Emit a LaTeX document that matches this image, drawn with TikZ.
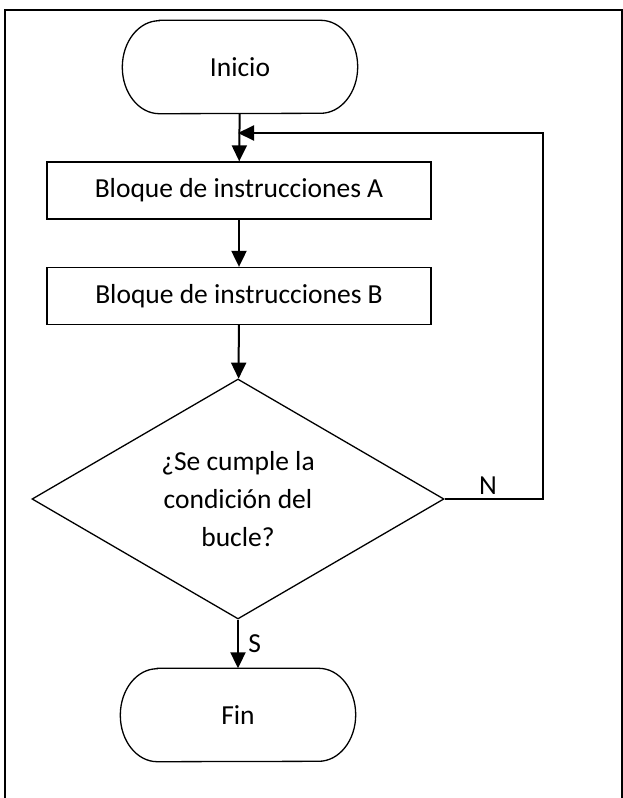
\documentclass[tikz,border=0pt]{standalone}
\usepackage{fontspec}
\setmainfont{Carlito}
\usepackage{xcolor}
\usepackage{tikz}
\usetikzlibrary{arrows.meta,shapes.geometric}

% outline of a start/end node: straight top and bottom, half ellipses at the ends
\newcommand{\capsula}[1]{%
    \draw[line width=1.3pt] ([xshift=37pt]#1.north west) -- ([xshift=-37pt]#1.north east)
        arc[start angle=90, end angle=-90, x radius=37pt, y radius=46.5pt]
        -- ([xshift=37pt]#1.south west)
        arc[start angle=270, end angle=90, x radius=37pt, y radius=46.5pt] -- cycle;}

\begin{document}
\begin{tikzpicture}[x=1pt, y=-1pt,
    every node/.style={font=\fontsize{27.5}{38}\selectfont},
    terminal/.style={rectangle, minimum width=235pt, minimum height=93pt},
    bloque/.style={draw, line width=1.3pt, rectangle, minimum width=384pt, minimum height=57pt},
    decision/.style={draw, line width=1.3pt, diamond, shape aspect=1.72, minimum width=412pt, minimum height=240pt, inner sep=0pt, align=center},
    flecha/.style={line width=2pt, -{Triangle[length=16pt,width=15pt]}}]
    \useasboundingbox (0,0) rectangle (623,798);
    \draw[line width=2pt] (5,820) -- (5,9.5) -- (622,9.5) -- (622,820);
    \node[terminal] (ini) at (240,67) {Inicio};
    \node[bloque] (blqA) at (239,190.5) {Bloque de instrucciones A};
    \node[bloque] (blqB) at (239,296) {Bloque de instrucciones B};
    \node[decision] (cond) at (238,499) {¿Se cumple la\\condición del\\bucle?};
    \node[terminal] (fin) at (238,715) {Fin};
    \capsula{ini}
    \capsula{fin}
    \coordinate (ret) at (238,133);
    \coordinate (esq) at (543,133);
    \draw[flecha] (ini) -- (blqA);
    \draw[flecha] (blqA) -- (blqB);
    \draw[flecha] (blqB) -- (cond);
    \draw[flecha] (cond) -- node[right, xshift=6pt] {S} (fin);
    \draw[flecha] (cond.east) -| node[pos=0.22, above] {N} (esq) -- (ret);
\end{tikzpicture}
\end{document}
